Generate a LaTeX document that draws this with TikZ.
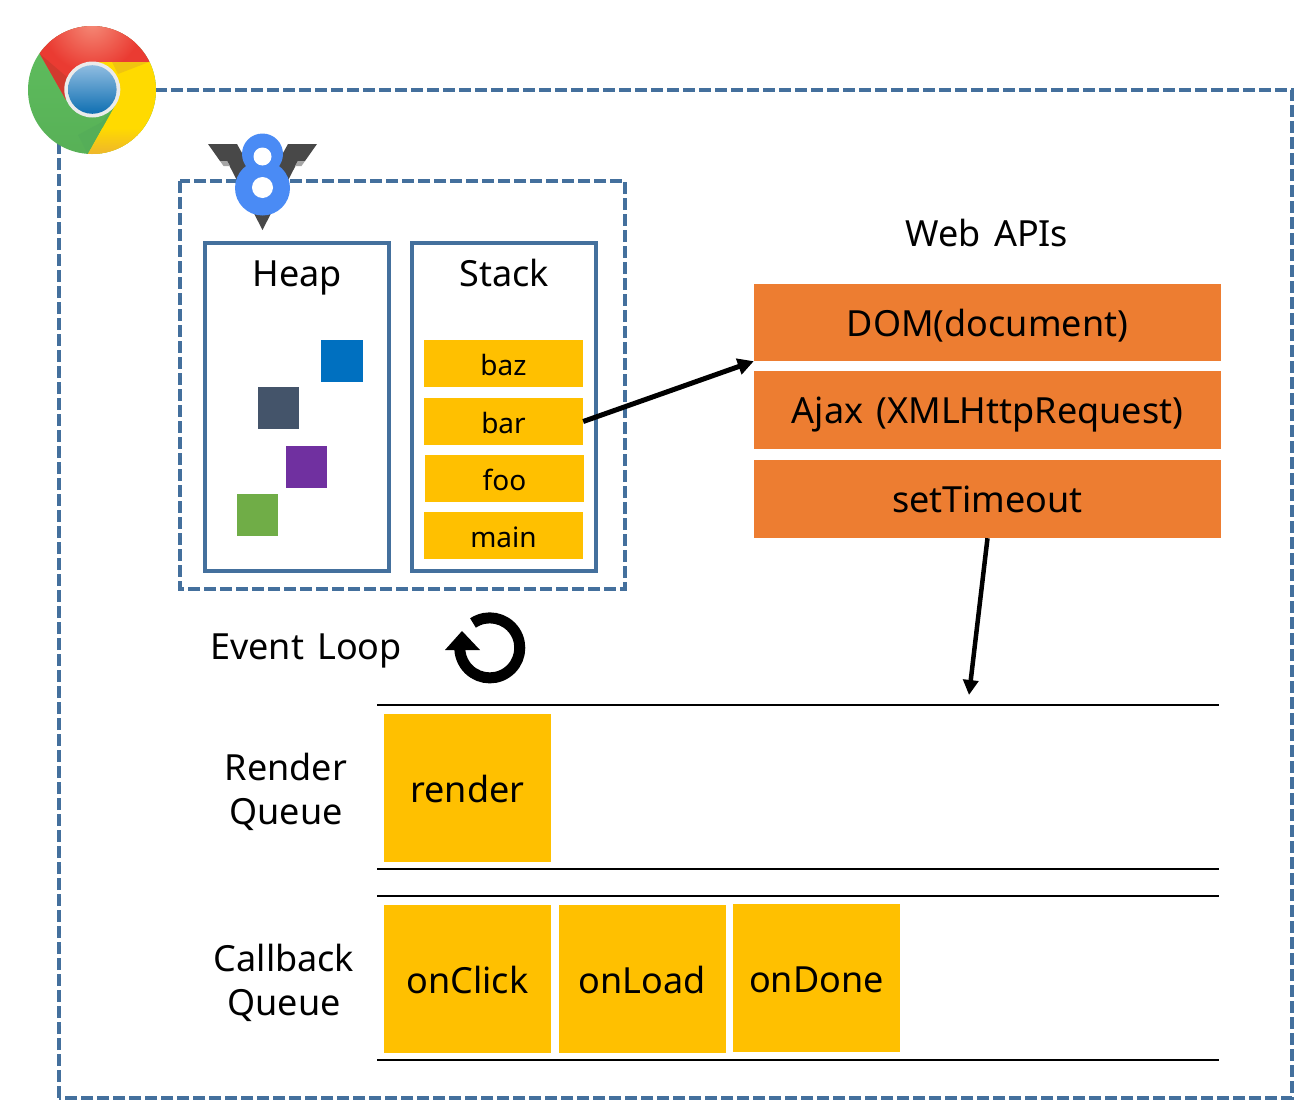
\documentclass[tikz,border=0pt]{standalone}
\usepackage{fontspec}
\setmainfont[WordSpace=1.4]{Noto Sans}
\usetikzlibrary{arrows.meta}
\definecolor{frameblue}{HTML}{44709D}
\definecolor{amber}{HTML}{FFC000}
\definecolor{apiorange}{HTML}{ED7D31}
\definecolor{gA}{HTML}{5FBF5E}\definecolor{gB}{HTML}{55AE58}
\definecolor{rA}{HTML}{F58B78}\definecolor{rB}{HTML}{EA3B32}\definecolor{rC}{HTML}{D23A2E}
\definecolor{yA}{HTML}{FFDA00}\definecolor{yB}{HTML}{EDB32F}\definecolor{yC}{HTML}{F0C410}
\definecolor{bA}{HTML}{8FBCE0}\definecolor{bB}{HTML}{0F6FB2}
\definecolor{veedark}{HTML}{484848}
\definecolor{veeblue}{HTML}{4A8BF5}
\definecolor{sqblue}{HTML}{0070C0}
\definecolor{sqslate}{HTML}{44546A}
\definecolor{sqpurple}{HTML}{7030A0}
\definecolor{sqgreen}{HTML}{70AD47}
\tikzset{
  dashframe/.style={draw=frameblue,line width=4pt,dash pattern=on 12pt off 4pt},
  solidframe/.style={draw=frameblue,line width=4pt},
  biglabel/.style={font=\fontsize{36}{44}\selectfont,inner sep=0pt,align=center,text=black},
  oneline/.style={text height=34pt,text depth=7pt},
  ambersmall/.style={fill=amber,inner sep=0pt,minimum width=159pt,minimum height=47pt,font=\fontsize{28}{34}\selectfont,text height=26pt,text depth=2pt},
  amberbig/.style={fill=amber,inner sep=0pt,minimum width=167pt,minimum height=148pt,font=\fontsize{36}{44}\selectfont,text height=34pt,text depth=5pt},
  apibox/.style={fill=apiorange,inner sep=0pt,minimum width=467pt,minimum height=78pt,font=\fontsize{36}{44}\selectfont,oneline},
  heapsq/.style={inner sep=0pt,minimum width=41.5pt,minimum height=42pt},
  queueline/.style={line width=2pt,black},
  flow/.style={line width=5pt,black,-{Triangle[length=16pt,width=16pt]}},
  flowthin/.style={line width=4.5pt,black,-{Triangle[length=15pt,width=15pt]}}
}
\begin{document}
\begin{tikzpicture}[x=1pt,y=-1pt]
\useasboundingbox (0,0) rectangle (1294,1100);
% frames
\draw[dashframe] (59,1098) -- (59,90) -- (1292,90) -- (1292,1098) -- cycle;
\draw[dashframe] (180,181) rectangle (625,589);
\draw[solidframe] (205,243) rectangle (389,571);
\draw[solidframe] (412,243) rectangle (596,571);
% chrome logo
\begin{scope}
  \clip (92,90) circle (64);
  \shade[top color=gA,bottom color=gA!92!black] (20,20) rectangle (170,160);
  \fill[gB] (88,154) -- (116,104) -- (102,122) -- (78,135) -- cycle;
  \begin{scope}
    \clip (40,54) -- (66,100) -- (92,62) -- (149,62) -- (170,20) -- (20,20) -- cycle;
    \fill[rB] (20,20) rectangle (170,110);
    \shade[inner color=rA,outer color=rB] (92,22) circle (50);
    \fill[rC] (40,54) -- (65,98) -- (68,78) -- cycle;
  \end{scope}
  \begin{scope}
    \clip (149,62) -- (92,62) -- (116,104) -- (88,154) -- (88,170) -- (170,170) -- (170,62) -- cycle;
    \fill[yA] (80,55) rectangle (170,160);
    \shade[top color=yA,bottom color=yB] (80,128) rectangle (170,156);
    \fill[yC] (149,62) -- (112,62) -- (118,74) -- cycle;
  \end{scope}
\end{scope}
\fill[white!92!black] (92.3,89.5) circle (28);
\shade[top color=bA,bottom color=bB] (92.3,89.5) circle (24.3);
% v8 logo
\fill[veedark] (208,144) -- (237,144) -- (262.5,190) -- (288,144) -- (317,144) -- (305,161) -- (298,161) -- (262.5,230) -- (227,161) -- (220,161) -- cycle;
\fill[black!35] (220,161) -- (227,161) -- (230,166) -- (223.5,166) -- cycle;
\fill[black!35] (305,161) -- (298,161) -- (295,166) -- (301.5,166) -- cycle;
\fill[veeblue] (262.5,154) circle (20.5) (262.5,188) circle (27.5);
\fill[white] (262.5,156.5) circle (9) (262.5,187.5) circle (10.5);
% heap
\node[biglabel,oneline] (heap) at (297,272.5) {Heap};
\node[heapsq,fill=sqblue] (sqa) at (342,360.5) {};
\node[heapsq,fill=sqslate] (sqb) at (278.25,408) {};
\node[heapsq,fill=sqpurple] (sqc) at (306.25,467) {};
\node[heapsq,fill=sqgreen] (sqd) at (257.25,514.5) {};
% stack
\node[biglabel,oneline] (stack) at (504,273) {Stack};
\node[ambersmall] (baz) at (503.5,363.5) {baz};
\node[ambersmall] (bar) at (503.5,421.5) {bar};
\node[ambersmall] (foo) at (504.5,478.5) {foo};
\node[ambersmall] (main) at (503.5,535.5) {main};
% web apis
\node[biglabel,oneline] (web) at (987,232.5) {Web APIs};
\node[apibox,minimum height=77pt] (dom) at (987.5,322.5) {DOM(document)};
\node[apibox] (ajax) at (987.5,410) {Ajax (XMLHttpRequest)};
\node[apibox] (timeout) at (987.5,499) {setTimeout};
% event loop
\node[biglabel,oneline] (loop) at (306,645.5) {Event Loop};
\draw[line width=11pt,black] (473,623) arc[start angle=-124,end angle=180,radius=30];
\fill[black] (445,650) -- (480,650) -- (462,631) -- cycle;
% queues
\coordinate (la) at (377,705); \coordinate (lb) at (1219,705);
\coordinate (lc) at (377,868.5); \coordinate (ld) at (1219,868.5);
\coordinate (le) at (377,896); \coordinate (lf) at (1219,896);
\coordinate (lg) at (377,1059.5); \coordinate (lh) at (1219,1059.5);
\draw[queueline] (la) -- (lb);
\draw[queueline] (lc) -- (ld);
\draw[queueline] (le) -- (lf);
\draw[queueline] (lg) -- (lh);
\node[biglabel] (rq) at (286,792) {Render\\Queue};
\node[biglabel] (cq) at (284,983) {Callback\\Queue};
\node[amberbig] (render) at (467.5,788) {render};
\node[amberbig] (onclick) at (467.5,979) {onClick};
\node[amberbig] (onload) at (642,979) {onLoad};
\node[amberbig] (ondone) at (816.5,978) {onDone};
% connectors
\coordinate (queuein) at (969,695);
\draw[flow] (bar.east) -- (dom.south west);
\draw[flowthin] (timeout.south) -- (queuein);
\end{tikzpicture}
\end{document}
